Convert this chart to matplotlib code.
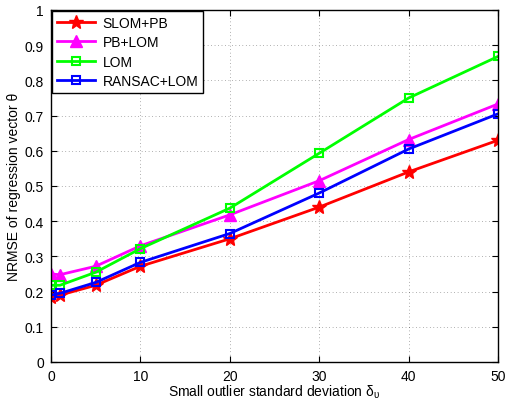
import matplotlib
matplotlib.use('Agg')
import matplotlib.pyplot as plt

plt.rcParams['font.family'] = ['Liberation Sans', 'DejaVu Sans']
plt.rcParams['mathtext.fontset'] = 'custom'
plt.rcParams['mathtext.rm'] = 'Liberation Sans'
plt.rcParams['mathtext.it'] = 'Liberation Sans'

# small outlier standard deviation
x = [0, 1, 5, 10, 20, 30, 40, 50]

slom_pb = [0.185, 0.19, 0.218, 0.272, 0.35, 0.44, 0.54, 0.63]
pb_lom = [0.25, 0.248, 0.272, 0.33, 0.418, 0.515, 0.632, 0.733]
lom = [0.218, 0.218, 0.255, 0.322, 0.437, 0.593, 0.75, 0.868]
ransac_lom = [0.19, 0.195, 0.226, 0.283, 0.365, 0.48, 0.605, 0.705]

x_ticks = [0, 10, 20, 30, 40, 50]
y_ticks = [0, 0.1, 0.2, 0.3, 0.4, 0.5, 0.6, 0.7, 0.8, 0.9, 1]

fig = plt.figure(figsize=(5.06, 4.02), dpi=100)
ax = fig.add_axes([51 / 506, 1 - 363 / 402, 447 / 506, 352 / 402])

ax.plot(x, slom_pb, color='red', lw=2, marker='*', ms=10, label='SLOM+PB')
ax.plot(x, pb_lom, color='magenta', lw=2, marker='^', ms=8, label='PB+LOM')
ax.plot(x, lom, color='lime', lw=2, marker='s', ms=5.5, mfc='none', mew=1.5, label='LOM')
ax.plot(x, ransac_lom, color='blue', lw=2, marker='s', ms=5.5, mfc='none', mew=1.5, label='RANSAC+LOM')

ax.set_xlim(0, 50)
ax.set_ylim(0, 1)
ax.set_xticks(x_ticks)
ax.set_yticks(y_ticks)
ax.set_yticklabels(['0', '0.1', '0.2', '0.3', '0.4', '0.5', '0.6', '0.7', '0.8', '0.9', '1'])
ax.tick_params(direction='in', top=True, right=True, labelsize=10, length=4, pad=5)
ax.grid(True, linestyle=(0, (1, 4)), color='black', lw=0.5, alpha=0.6)
for s in ax.spines.values():
    s.set_linewidth(1.0)

ax.set_xlabel('Small outlier standard deviation $\\delta_{\\upsilon}$', fontsize=10, labelpad=0)
ax.set_ylabel('NRMSE of regression vector θ', fontsize=10, labelpad=3)

leg = ax.legend(loc='upper left', fontsize=10, fancybox=False, framealpha=1,
                edgecolor='black', borderaxespad=0.05, handlelength=2.8,
                labelspacing=0.4, borderpad=0.35, handletextpad=0.5)
leg.get_frame().set_linewidth(1.0)

fig.savefig('out.png', dpi=100)
